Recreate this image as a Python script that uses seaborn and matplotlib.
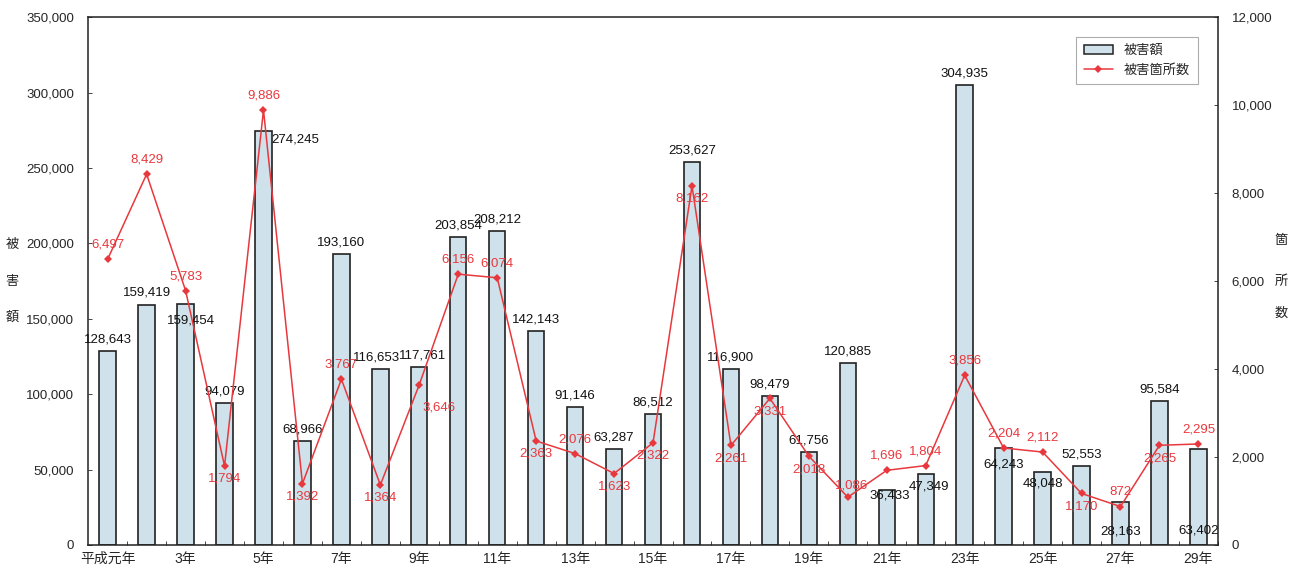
import numpy as np
import pandas as pd
import matplotlib
matplotlib.use("Agg")
import matplotlib.pyplot as plt
from matplotlib.lines import Line2D
from matplotlib.patches import Patch
import seaborn as sns

# 年次 (平成元年〜29年)
years = ["平成元年"] + [f"{i}年" for i in range(2, 30)]

# 被害額
damage = [128643, 159419, 159454, 94079, 274245, 68966, 193160, 116653, 117761,
          203854, 208212, 142143, 91146, 63287, 86512, 253627, 116900, 98479,
          61756, 120885, 36433, 47349, 304935, 64243, 48048, 52553, 28163,
          95584, 63402]

# 被害箇所数
sites = [6497, 8429, 5783, 1794, 9886, 1392, 3767, 1364, 3646, 6156, 6074,
         2363, 2076, 1623, 2322, 8162, 2261, 3331, 2018, 1086, 1696, 1804,
         3856, 2204, 2112, 1170, 872, 2265, 2295]

sns.set_theme(style="white")
plt.rcParams["font.family"] = ["Liberation Sans", "Noto Sans CJK JP"]

df = pd.DataFrame({"year": years, "damage": damage, "sites": sites,
                   "pos": np.arange(len(years))})

fig = plt.figure(figsize=(12.97, 5.70), dpi=100)
ax = fig.add_axes([0.068, 0.044, 0.871, 0.926])

bar_color = "#cfe1ea"
line_color = "#e8383d"

sns.barplot(data=df, x="year", y="damage", ax=ax, color=bar_color,
            edgecolor="#222222", linewidth=1.2, width=0.42, saturation=1)
ax.set_ylim(0, 350000)
ax.set_xlim(-0.5, len(years) - 0.5)
ax.set_yticks(np.arange(0, 350001, 50000))
ax.set_yticklabels([f"{v:,}" for v in range(0, 350001, 50000)], fontsize=9.5)
ax.set_xticks(np.arange(len(years)))
ax.set_xticklabels([y if i % 2 == 0 else "" for i, y in enumerate(years)],
                   fontsize=10)
ax.set_xlabel("")
ax.set_ylabel("")
ax.tick_params(axis="x", length=0, pad=5)
ax.tick_params(axis="y", direction="in", length=3, width=0.6, pad=10)
ax.set_xticks(np.arange(len(years)) + 0.5, minor=True)
ax.tick_params(axis="x", which="minor", direction="in", length=3, width=0.6,
               bottom=True)
for s in ax.spines.values():
    s.set_color("#222222")
    s.set_linewidth(1.1)

ax2 = ax.twinx()
sns.lineplot(data=df, x="pos", y="sites", ax=ax2, color=line_color,
             linewidth=1.1, marker="D", markersize=4, markeredgewidth=0)
ax2.set_ylim(0, 12000)
ax2.set_xlim(-0.5, len(years) - 0.5)
ax2.set_yticks(np.arange(0, 12001, 2000))
ax2.set_yticklabels([f"{v:,}" for v in range(0, 12001, 2000)], fontsize=9.5)
ax2.set_ylabel("")
ax2.tick_params(axis="y", direction="in", length=3, width=0.6, pad=10)
for s in ax2.spines.values():
    s.set_visible(False)

# 被害額ラベルの位置 (points)
bar_off = {2: (4, -16), 4: (23, -10), 7: (-3, 4), 8: (2, 4), 20: (2, -8),
           21: (2, -14), 23: (0, -16), 24: (0, -12), 26: (0, -25),
           28: (0, -63)}
for i, v in enumerate(damage):
    dx, dy = bar_off.get(i, (0, 4))
    ax.annotate(f"{v:,}", (i, v), xytext=(dx, dy), textcoords="offset points",
                ha="center", va="bottom", fontsize=9.5, color="#111111",
                zorder=5)

# 被害箇所数ラベルの位置 (points)
below = {3, 5, 7, 11, 13, 14, 15, 16, 17, 18, 25, 27}
line_off = {8: (14, -12), 19: (3, 4)}
for i, v in enumerate(sites):
    if i in line_off:
        dx, dy = line_off[i]
        va = "top" if dy < 0 else "bottom"
    elif i in below:
        dx, dy, va = 0, -5, "top"
    else:
        dx, dy, va = 0, 6, "bottom"
    ax2.annotate(f"{v:,}", (i, v), xytext=(dx, dy), textcoords="offset points",
                 ha="center", va=va, fontsize=9.5, color=line_color, zorder=6)

# 縦書きの軸ラベル
for ch, yy in zip("被害額", [0.570, 0.505, 0.442]):
    fig.text(0.0095, yy, ch, ha="center", va="center", fontsize=9.5,
             color="#222222")
for ch, yy in zip("箇所数", [0.577, 0.505, 0.450]):
    fig.text(0.988, yy, ch, ha="center", va="center", fontsize=9.5,
             color="#222222")

handles = [Patch(facecolor=bar_color, edgecolor="#222222", linewidth=1.1),
           Line2D([0], [0], color=line_color, linewidth=1.1, marker="D",
                  markersize=4, markeredgewidth=0)]
leg = ax2.legend(handles, ["被害額", "被害箇所数"], loc="upper right",
                 bbox_to_anchor=(0.988, 0.975), fontsize=9.5, frameon=True,
                 fancybox=False, edgecolor="#999999", handlelength=2.2,
                 handleheight=0.6, borderpad=0.6, labelspacing=0.5)
leg.get_frame().set_linewidth(0.8)

fig.savefig("out.png", dpi=100)
